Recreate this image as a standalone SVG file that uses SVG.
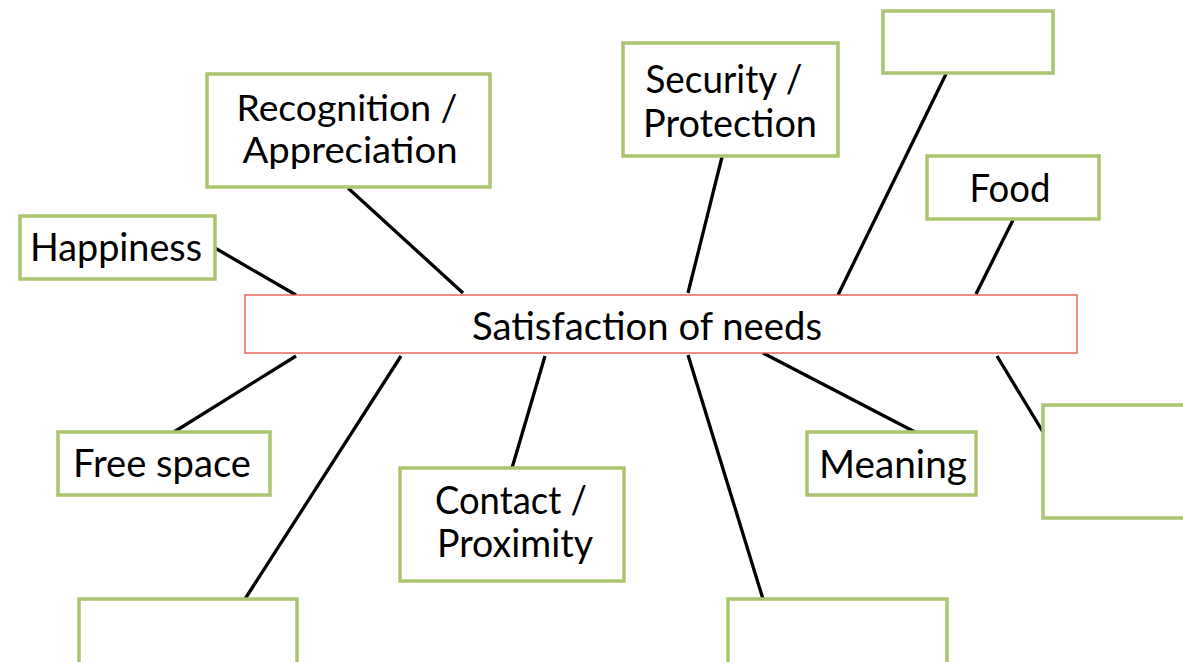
<svg xmlns="http://www.w3.org/2000/svg" width="1183" height="662" viewBox="0 0 1183 662">
<style>
.box{fill:#fff;stroke:#abc46f;stroke-width:3.5}
.center{fill:#fff;stroke:#e4503f;stroke-width:1.3}
.lbl{font-family:Lato,"Liberation Sans",sans-serif;font-size:38px;fill:#000;text-anchor:middle}
.sm{font-size:36px}
.con line{stroke:#000;stroke-width:3.3;stroke-linecap:butt}
</style>
<rect width="1183" height="662" fill="#fff"/>
<g id="connectors" class="con">
<line x1="215" y1="248" x2="296" y2="295"/>
<line x1="348" y1="188" x2="463" y2="293"/>
<line x1="722" y1="157" x2="688" y2="293"/>
<line x1="946" y1="74" x2="838" y2="295"/>
<line x1="1013" y1="220" x2="976" y2="294"/>
<line x1="997" y1="356" x2="1043" y2="432"/>
<line x1="296" y1="356" x2="174" y2="432"/>
<line x1="401" y1="356" x2="245" y2="599"/>
<line x1="545" y1="356" x2="512" y2="468"/>
<line x1="688" y1="355" x2="763" y2="599"/>
<line x1="763" y1="353" x2="915" y2="432"/>
</g>
<g id="center">
<rect class="center" x="245" y="295" width="832" height="58"/>
<text class="lbl" x="647" y="340" textLength="350" lengthAdjust="spacingAndGlyphs">Satisfaction of needs</text>
</g>
<g id="happiness">
<rect class="box" x="20" y="216" width="195" height="63"/>
<text class="lbl" x="116" y="261" textLength="172" lengthAdjust="spacingAndGlyphs">Happiness</text>
</g>
<g id="recognition">
<rect class="box" x="207" y="74" width="283" height="113"/>
<text class="lbl sm" x="347" y="121" textLength="221" lengthAdjust="spacingAndGlyphs">Recognition /</text>
<text class="lbl sm" x="350" y="163" textLength="215" lengthAdjust="spacingAndGlyphs">Appreciation</text>
</g>
<g id="security">
<rect class="box" x="623" y="43" width="215" height="113"/>
<text class="lbl" x="724" y="93" textLength="157" lengthAdjust="spacingAndGlyphs">Security /</text>
<text class="lbl" x="730" y="137" textLength="174" lengthAdjust="spacingAndGlyphs">Protection</text>
</g>
<g id="empty-top-right">
<rect class="box" x="883" y="11" width="170" height="62"/>
</g>
<g id="food">
<rect class="box" x="927" y="156" width="172" height="63"/>
<text class="lbl" x="1010" y="202" textLength="81" lengthAdjust="spacingAndGlyphs">Food</text>
</g>
<g id="free-space">
<rect class="box" x="58" y="432" width="212" height="63"/>
<text class="lbl" x="162" y="477" textLength="178" lengthAdjust="spacingAndGlyphs">Free space</text>
</g>
<g id="contact">
<rect class="box" x="400" y="468" width="224" height="113"/>
<text class="lbl" x="511" y="514" textLength="152" lengthAdjust="spacingAndGlyphs">Contact /</text>
<text class="lbl" x="515" y="557" textLength="156" lengthAdjust="spacingAndGlyphs">Proximity</text>
</g>
<g id="meaning">
<rect class="box" x="807" y="432" width="169" height="63"/>
<text class="lbl" x="893" y="478" textLength="148" lengthAdjust="spacingAndGlyphs">Meaning</text>
</g>
<g id="empty-right">
<rect class="box" x="1043" y="405" width="150" height="113"/>
</g>
<g id="empty-bottom-left">
<rect class="box" x="79" y="599" width="218" height="80"/>
</g>
<g id="empty-bottom-middle">
<rect class="box" x="728" y="599" width="219" height="80"/>
</g>
</svg>
